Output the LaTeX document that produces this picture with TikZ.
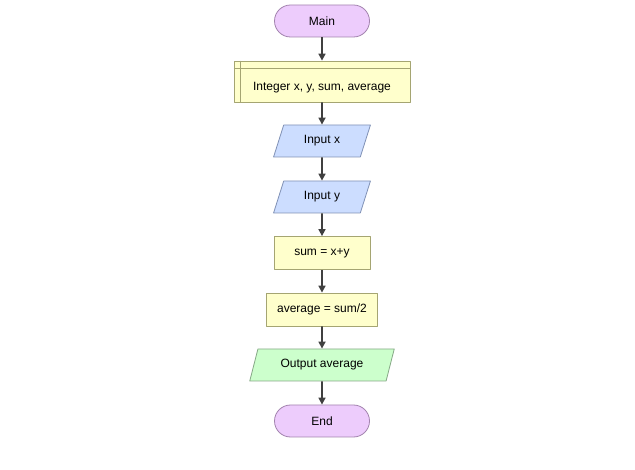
\documentclass[tikz,border=0pt]{standalone}
\usepackage{fontspec}
\setmainfont{Liberation Sans}
\usetikzlibrary{shapes.geometric,arrows.meta}
\definecolor{termfill}{HTML}{EDCCFC}
\definecolor{termline}{HTML}{A283AE}
\definecolor{procfill}{HTML}{FFFFCC}
\definecolor{procline}{HTML}{A5A572}
\definecolor{infill}{HTML}{CCDDFF}
\definecolor{inline}{HTML}{8091B5}
\definecolor{outfill}{HTML}{CCFFCC}
\definecolor{outline}{HTML}{86A886}
\definecolor{flowcol}{HTML}{404040}
\begin{document}
\begin{tikzpicture}[x=1pt, y=-1pt, font=\fontsize{12}{14}\selectfont, line join=round,
	>={Triangle[length=7pt,width=7pt]},
	term/.style={draw=termline, fill=termfill, line width=0.8pt, rounded corners=16pt, minimum width=95pt, minimum height=32pt},
	proc/.style={draw=procline, fill=procfill, line width=0.8pt, minimum height=33pt},
	inbox/.style={trapezium, trapezium left angle=72, trapezium right angle=108, trapezium stretches=true,
		draw=inline, fill=infill, line width=0.8pt, minimum width=97pt, minimum height=32pt},
	outbox/.style={inbox, draw=outline, fill=outfill, minimum width=145pt},
	flow/.style={->, draw=flowcol, line width=1.6pt}]
	\useasboundingbox (0,0) rectangle (635,470);
	% blocks, top to bottom
	\node[term] (start) at (322,21) {Main};
	\node[proc, minimum width=176pt, minimum height=41pt, text height=22pt, text depth=3pt] (decl) at (322,81.5) {Integer x, y, sum, average};
	\draw[procline, line width=0.8pt] ([xshift=7pt]decl.north west) -- ([xshift=7pt]decl.south west);
	\draw[procline, line width=0.8pt] ([yshift=-8pt]decl.north west) -- ([yshift=-8pt]decl.north east);
	\node[inbox] (inx) at (322,141) {Input x};
	\node[inbox] (iny) at (322,197) {Input y};
	\node[proc, minimum width=96pt] (sum) at (322,253) {sum = x+y};
	\node[proc, minimum width=111pt] (avg) at (322,309.5) {average = sum/2};
	\node[outbox] (out) at (322,365) {Output average};
	\node[term] (stop) at (322,421) {End};
	% connectors
	\draw[flow] (start) -- (decl);
	\draw[flow] (decl) -- (inx);
	\draw[flow] (inx) -- (iny);
	\draw[flow] (iny) -- (sum);
	\draw[flow] (sum) -- (avg);
	\draw[flow] (avg) -- (out);
	\draw[flow] (out) -- (stop);
\end{tikzpicture}
\end{document}
